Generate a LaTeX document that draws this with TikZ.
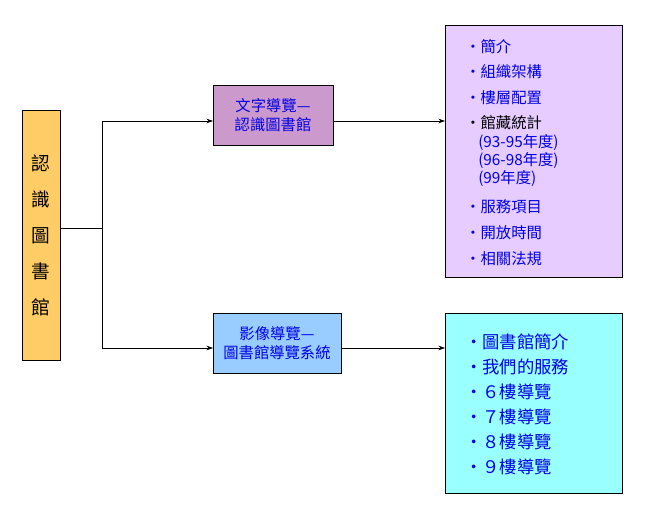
\documentclass[tikz,border=0pt]{standalone}
\usepackage{fontspec}
\setmainfont{Liberation Serif}
\newfontfamily\cjk{Noto Sans CJK TC}
\definecolor{orangebox}{RGB}{255,204,102}
\definecolor{plumbox}{RGB}{204,153,204}
\definecolor{skybox}{RGB}{153,204,255}
\definecolor{lavbox}{RGB}{230,204,255}
\definecolor{cyanbox}{RGB}{153,255,255}
\definecolor{navytext}{RGB}{0,0,230}
\usetikzlibrary{positioning, arrows.meta}

\begin{document}
\begin{tikzpicture}[x=0.75pt, y=-0.75pt,
                    every node/.style = {inner sep=0pt},
                    box/.style = {draw=black, line width=0.6pt},
                    item/.style = {anchor=west, text=navytext, font=\cjk\fontsize{11.5}{12}\selectfont},
                    link/.style = {draw, line width=0.5pt, -{Stealth[length=5pt,width=3.5pt]}}]
                \useasboundingbox (0,0) rectangle (658,510);
                % boxes
                \draw[box, fill=orangebox] (22,110) rectangle (60,360);
                \draw[box, fill=plumbox]   (213,85) rectangle (333,145);
                \draw[box, fill=skybox]    (213,313) rectangle (341,373);
                \draw[box, fill=lavbox]    (445,25) rectangle (622,277);
                \draw[box, fill=cyanbox]   (445,313) rectangle (622,493);
                \node (lib) at (41,235) [align=center, font=\cjk\fontsize{14}{27}\selectfont] {認\\識\\圖\\書\\館};
                \node (text) at (273,115) [align=center, text=navytext, font=\cjk\fontsize{11.5}{14}\selectfont] {文字導覽—\\認識圖書館};
                \node (image) at (277,343) [align=center, text=navytext, font=\cjk\fontsize{11.5}{14}\selectfont] {影像導覽—\\圖書館導覽系統};
                \coordinate (fork) at (102,228);
                \coordinate (up) at (102,121);
                \coordinate (down) at (102,348);
                \coordinate (list1) at (445,121);
                \coordinate (list2) at (445,348);
                % connectors
                \draw[line width=0.5pt] (60,228) -- (fork);
                \draw[line width=0.5pt] (up) -- (down);
                \draw[link] (up) -- (213,121);
                \draw[link] (down) -- (213,348);
                \draw[link] (333,121) -- (list1);
                \draw[link] (341,348) -- (list2);
                % upper list
                \foreach \y/\t in {47/簡介, 72/組織架構, 98/樓層配置, 207/服務項目, 233/開放時間, 259/相關法規}
                    \node[item] at (465,\y) {・\t};
                \node[item, text=black] at (465,123) {・館藏統計};
                \foreach \y/\t in {143/(93-95年度), 161/(96-98年度), 179/(99年度)}
                    \node[item] at (478,\y) {\t};
                % lower list
                \foreach \y/\t in {342/圖書館簡介, 367/我們的服務, 392/６樓導覽, 417/７樓導覽, 442/８樓導覽, 467/９樓導覽}
                    \node[item, font=\cjk\fontsize{13}{14}\selectfont] at (465,\y) {・\t};
            \end{tikzpicture}
\end{document}
